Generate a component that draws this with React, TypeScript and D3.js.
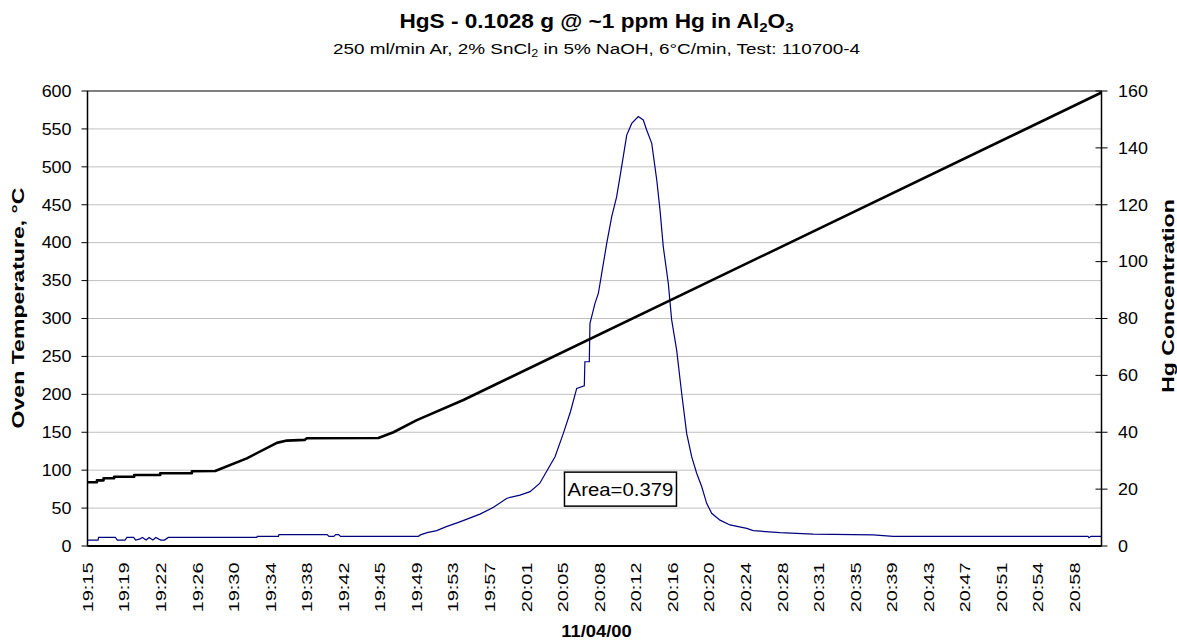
import React, { useEffect, useRef } from "react";
import * as d3 from "d3";

// Category labels along the time axis (every ~3.8 minutes)
const X_LABELS = [
  "19:15", "19:19", "19:22", "19:26", "19:30", "19:34", "19:38", "19:42",
  "19:45", "19:49", "19:53", "19:57", "20:01", "20:05", "20:08", "20:12",
  "20:16", "20:20", "20:24", "20:28", "20:31", "20:35", "20:39", "20:43",
  "20:47", "20:51", "20:54", "20:58",
];
const LABEL_STEP_MIN = 3.8; // minutes between labels
const X_END_MIN = 105.4; // minutes after 19:15 at right edge

const TEMP_TICKS = [0, 50, 100, 150, 200, 250, 300, 350, 400, 450, 500, 550, 600];
const HG_TICKS = [0, 20, 40, 60, 80, 100, 120, 140, 160];

// Oven temperature (°C) vs minutes after 19:15
const TEMP_SERIES: [number, number][] = [
  [0, 84], [0.98, 84], [0.98, 86.6], [1.67, 86.6], [1.67, 89.3], [2.77, 89.3],
  [2.77, 91.4], [4.85, 91.4], [4.85, 93.6], [7.56, 93.6], [7.56, 95.9],
  [10.85, 95.9], [10.85, 98.5], [13.27, 99], [13.79, 101.5], [16.56, 115.6],
  [19.68, 136], [20.72, 139], [22.6, 140], [22.8, 142], [30.24, 142.4],
  [31.8, 150], [34.23, 166], [39.07, 192.5], [105.4, 598],
];

// Hg concentration vs minutes after 19:15
const HG_SERIES: [number, number][] = [
  [0, 2.1], [1.1, 2.1], [1.15, 3.0], [2.9, 3.0], [3.1, 2.1], [3.9, 2.1],
  [4.1, 3.0], [4.8, 3.0], [5.0, 2.1], [5.4, 2.4], [5.7, 3.0], [6.1, 2.1],
  [6.4, 3.0], [6.8, 2.1], [7.1, 3.0], [7.6, 2.1], [8.0, 2.1], [8.4, 3.0],
  [8.6, 3.0], [17.6, 3.0], [17.65, 3.4], [19.85, 3.4], [19.9, 4.0],
  [24.9, 4.0], [25.1, 3.4], [25.6, 3.4], [25.8, 4.0], [26.1, 4.0],
  [26.3, 3.4], [34.4, 3.4], [34.6, 3.9], [35.3, 4.7], [36.3, 5.4],
  [37.3, 6.8], [38.7, 8.5], [40.8, 11.2], [42.2, 13.6], [43.6, 16.8],
  [44.96, 17.9], [46.0, 19.1], [47.0, 22], [47.7, 26.1], [48.6, 31.4],
  [49.46, 39.6], [50.2, 47.2], [50.85, 55.4], [51.64, 56.3], [51.7, 64.8],
  [52.16, 64.8], [52.23, 78.3], [52.75, 85.3], [53.1, 88.8], [53.45, 95.9],
  [53.97, 106.4], [54.49, 115.8], [55.0, 122.8], [55.35, 129.9],
  [55.69, 136.9], [56.05, 144.5], [56.57, 148.6], [57.25, 151],
  [57.77, 149.8], [58.12, 146.3], [58.65, 141.6], [59.17, 128.7],
  [59.51, 118.1], [59.85, 105.2], [60.37, 92.4], [60.72, 79.5],
  [61.24, 68.9], [61.76, 53.7], [62.28, 39.6], [62.8, 31.4], [63.32, 25.6],
  [63.84, 20.9], [64.36, 15], [64.88, 11.5], [65.74, 9.1], [66.78, 7.4],
  [68.52, 6.2], [69.2, 5.4], [71.98, 4.7], [75.44, 4.2], [81.67, 3.9],
  [83.75, 3.4], [104.0, 3.4], [104.1, 2.9], [104.3, 3.4], [105.4, 3.4],
];

const AREA_NOTE = { text: "Area=0.379", minute: 55.4, hg: 20 };

const FONT = "'Liberation Sans', Arial, Helvetica, sans-serif";
const W = 1177;
const H = 642;
const M = { left: 87.5, right: 1101.5, top: 91, bottom: 546 };

export default function App() {
  const ref = useRef<SVGSVGElement>(null);

  useEffect(() => {
    const svg = d3.select(ref.current);
    svg.selectAll("*").remove();

    const x = d3.scaleLinear().domain([0, X_END_MIN]).range([M.left, M.right]);
    const yT = d3.scaleLinear().domain([0, 600]).range([M.bottom, M.top]);
    const yH = d3.scaleLinear().domain([0, 160]).range([M.bottom, M.top]);

    svg.append("rect").attr("width", W).attr("height", H).attr("fill", "#fff");

    // helper: text with horizontal stretch (wide legacy rendering)
    const txt = (
      parent: d3.Selection<any, any, any, any>,
      transform: string,
      size: number,
      sx: number,
      anchor: string,
      bold = false
    ) =>
      parent
        .append("g")
        .attr("transform", `${transform} scale(${sx},1)`)
        .append("text")
        .attr("text-anchor", anchor)
        .attr("font-family", FONT)
        .attr("font-size", size)
        .attr("font-weight", bold ? "bold" : "normal")
        .attr("fill", "#000");

    // gridlines
    svg.append("g")
      .selectAll("line")
      .data(TEMP_TICKS.filter((t) => t > 0 && t < 600))
      .join("line")
      .attr("x1", M.left).attr("x2", M.right)
      .attr("y1", (d) => yT(d)).attr("y2", (d) => yT(d))
      .attr("stroke", "#c0c0c0").attr("stroke-width", 1);

    // plot border
    svg.append("rect")
      .attr("x", M.left).attr("y", M.top)
      .attr("width", M.right - M.left).attr("height", M.bottom - M.top)
      .attr("fill", "none").attr("stroke", "#000").attr("stroke-width", 1);

    // left axis
    const gl = svg.append("g");
    gl.append("line").attr("x1", M.left).attr("x2", M.left)
      .attr("y1", M.top).attr("y2", M.bottom).attr("stroke", "#000").attr("stroke-width", 1.5);
    TEMP_TICKS.forEach((t) => {
      gl.append("line").attr("x1", M.left - 6).attr("x2", M.left)
        .attr("y1", yT(t)).attr("y2", yT(t)).attr("stroke", "#000");
      txt(gl, `translate(${M.left - 16},${yT(t)})`, 16, 1.12, "end")
        .attr("dy", "0.36em").text(String(t));
    });

    // right axis (cross ticks)
    const gr = svg.append("g");
    gr.append("line").attr("x1", M.right).attr("x2", M.right)
      .attr("y1", M.top).attr("y2", M.bottom).attr("stroke", "#000").attr("stroke-width", 1.5);
    HG_TICKS.forEach((t) => {
      gr.append("line").attr("x1", M.right - 6).attr("x2", M.right + 6)
        .attr("y1", yH(t)).attr("y2", yH(t)).attr("stroke", "#000");
      txt(gr, `translate(${M.right + 16.5},${yH(t)})`, 16, 1.12, "start")
        .attr("dy", "0.36em").text(String(t));
    });

    // bottom axis line
    svg.append("line")
      .attr("x1", M.left).attr("x2", M.right)
      .attr("y1", M.bottom).attr("y2", M.bottom)
      .attr("stroke", "#000").attr("stroke-width", 2);

    // x labels (rotated)
    const gx = svg.append("g");
    X_LABELS.forEach((lab, i) => {
      txt(gx, `translate(${x(i * LABEL_STEP_MIN)},562.5) rotate(-90)`, 15, 1.33, "end")
        .attr("dy", "0.36em").text(lab);
    });

    // lines
    svg.append("path")
      .datum(HG_SERIES)
      .attr("d", d3.line<[number, number]>().x((d) => x(d[0])).y((d) => yH(d[1])))
      .attr("fill", "none").attr("stroke", "#000080").attr("stroke-width", 1.2);

    svg.append("path")
      .datum(TEMP_SERIES)
      .attr("d", d3.line<[number, number]>().x((d) => x(d[0])).y((d) => yT(d[1])))
      .attr("fill", "none").attr("stroke", "#000").attr("stroke-width", 2.6)
      .attr("stroke-linejoin", "round");

    // area annotation
    const ax = x(AREA_NOTE.minute);
    const ay = yH(AREA_NOTE.hg);
    svg.append("rect")
      .attr("x", ax - 56).attr("y", ay - 17).attr("width", 112).attr("height", 34)
      .attr("fill", "#fff").attr("stroke", "#000").attr("stroke-width", 1.5);
    txt(svg, `translate(${ax},${ay})`, 18.5, 1.1, "middle")
      .attr("dy", "0.36em").text(AREA_NOTE.text);

    // titles
    const cx = (M.left + M.right) / 2 + 2;
    const title = txt(svg, `translate(${cx},28)`, 19.5, 1.16, "middle", true);
    title.append("tspan").text("HgS - 0.1028 g @ ~1 ppm Hg in Al");
    title.append("tspan").attr("font-size", 13).attr("dy", 4).text("2");
    title.append("tspan").attr("dy", -4).text("O");
    title.append("tspan").attr("font-size", 13).attr("dy", 4).text("3");

    const sub = txt(svg, `translate(${cx},54)`, 15, 1.26, "middle");
    sub.append("tspan").text("250 ml/min Ar, 2% SnCl");
    sub.append("tspan").attr("font-size", 10).attr("dy", 3).text("2");
    sub.append("tspan").attr("dy", -3).text(" in 5% NaOH, 6°C/min, Test: 110700-4");

    txt(svg, `translate(23.5,308) rotate(-90)`, 16.5, 1.4, "middle", true)
      .text("Oven Temperature, °C");

    txt(svg, `translate(1173.5,296) rotate(-90)`, 16.5, 1.4, "middle", true)
      .text("Hg Concentration");

    txt(svg, `translate(${cx},637)`, 16, 1.15, "middle", true).text("11/04/00");
  }, []);

  return (
    <svg
      ref={ref}
      width={W}
      height={H}
      style={{ position: "absolute", left: 0, top: 0, overflow: "hidden" }}
    />
  );
}
